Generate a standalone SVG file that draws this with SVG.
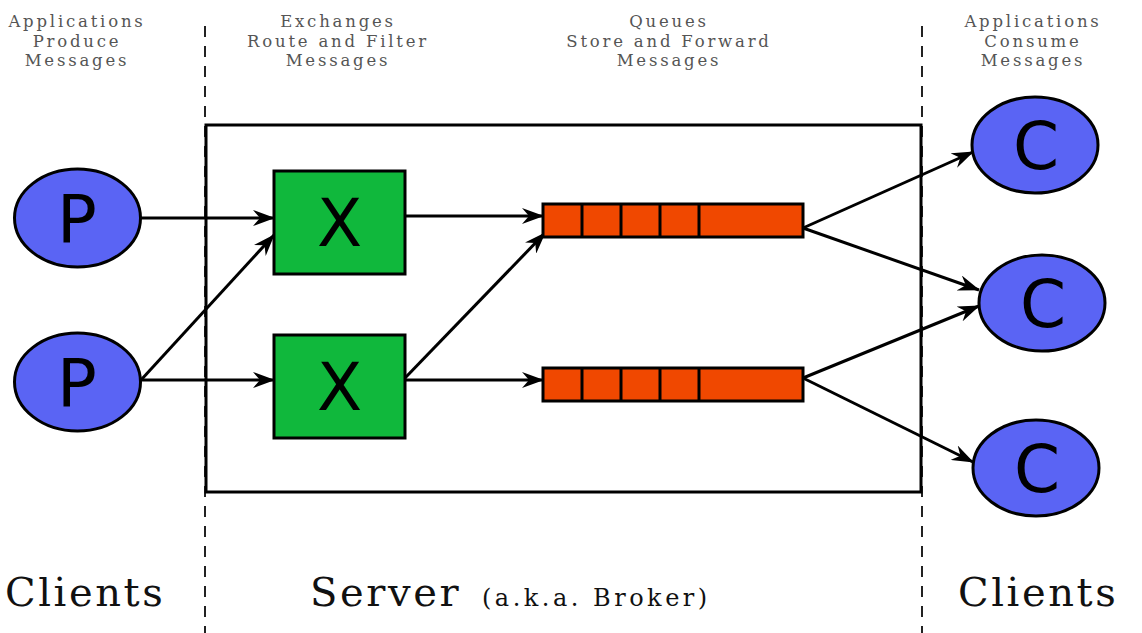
<svg xmlns="http://www.w3.org/2000/svg" width="1142" height="633" viewBox="0 0 1142 633">
  <defs>
    <marker id="arrow" viewBox="0 0 22 16" refX="21" refY="8" markerWidth="22" markerHeight="16" markerUnits="userSpaceOnUse" orient="auto">
      <path d="M0,0 L22,8 L0,16 L7,8 Z" fill="#000"/>
    </marker>
    <style>
      .caption { font-family: "DejaVu Serif", "Liberation Serif", serif; font-size: 16.5px; letter-spacing: 2.8px; fill: #555; text-anchor: middle; }
      .big { font-family: "DejaVu Serif", "Liberation Serif", serif; font-size: 40px; letter-spacing: 2.6px; fill: #111; }
      .small { font-family: "DejaVu Serif", "Liberation Serif", serif; font-size: 24px; letter-spacing: 3.5px; fill: #111; }
      .divider { stroke: #222; stroke-width: 2; stroke-dasharray: 11 9; fill: none; }
      .client { fill: #5a64f4; stroke: #000; stroke-width: 3; }
      .exchange { fill: #10b83c; stroke: #000; stroke-width: 3; }
      .queue { fill: #f04800; stroke: #000; stroke-width: 3; }
      .letter { font-family: "DejaVu Sans", "Liberation Sans", sans-serif; font-size: 66px; fill: #000; text-anchor: middle; }
      .edge { stroke: #000; stroke-width: 3; fill: none; marker-end: url(#arrow); }
    </style>
  </defs>
  <rect width="1142" height="633" fill="#fff"/>

  <!-- column headers -->
  <g id="headers">
    <text class="caption" x="77" y="27">Applications</text>
    <text class="caption" x="77" y="46.5">Produce</text>
    <text class="caption" x="77" y="66">Messages</text>
    <text class="caption" x="338" y="27">Exchanges</text>
    <text class="caption" x="338" y="46.5">Route and Filter</text>
    <text class="caption" x="338" y="66">Messages</text>
    <text class="caption" x="669" y="27">Queues</text>
    <text class="caption" x="669" y="46.5">Store and Forward</text>
    <text class="caption" x="669" y="66">Messages</text>
    <text class="caption" x="1033" y="27">Applications</text>
    <text class="caption" x="1033" y="46.5">Consume</text>
    <text class="caption" x="1033" y="66">Messages</text>
  </g>

  <!-- client / server separators -->
  <line class="divider" x1="205" y1="26" x2="205" y2="633"/>
  <line class="divider" x1="922" y1="26" x2="922" y2="633"/>

  <!-- broker boundary -->
  <rect id="server" x="206" y="125" width="715" height="367" fill="none" stroke="#000" stroke-width="3"/>

  <!-- connectors -->
  <g id="connectors">
    <line class="edge" x1="141" y1="218" x2="274" y2="218"/>
    <line class="edge" x1="141" y1="380" x2="274" y2="235"/>
    <line class="edge" x1="141" y1="380" x2="274" y2="380"/>
    <line class="edge" x1="405" y1="216" x2="543" y2="216"/>
    <line class="edge" x1="405" y1="378" x2="545" y2="233"/>
    <line class="edge" x1="405" y1="380" x2="543" y2="380"/>
    <line class="edge" x1="803" y1="228" x2="973" y2="152"/>
    <line class="edge" x1="803" y1="228" x2="979" y2="290"/>
    <line class="edge" x1="803" y1="378" x2="979" y2="306"/>
    <line class="edge" x1="803" y1="378" x2="973" y2="462"/>
  </g>

  <!-- producers -->
  <g id="producer-1">
    <ellipse class="client" cx="77.5" cy="218" rx="63" ry="49"/>
    <text class="letter" x="77" y="242">P</text>
  </g>
  <g id="producer-2">
    <ellipse class="client" cx="77.5" cy="382" rx="63" ry="49"/>
    <text class="letter" x="77" y="406">P</text>
  </g>

  <!-- exchanges -->
  <g id="exchange-1">
    <rect class="exchange" x="274" y="171" width="131" height="103"/>
    <text class="letter" x="339.5" y="246">X</text>
  </g>
  <g id="exchange-2">
    <rect class="exchange" x="274" y="335" width="131" height="103"/>
    <text class="letter" x="339.5" y="410">X</text>
  </g>

  <!-- queues -->
  <g id="queue-1">
    <rect class="queue" x="543" y="204" width="260" height="33"/>
    <path d="M582,204 V237 M621,204 V237 M660,204 V237 M699,204 V237" stroke="#000" stroke-width="3"/>
  </g>
  <g id="queue-2">
    <rect class="queue" x="543" y="368" width="260" height="33"/>
    <path d="M582,368 V401 M621,368 V401 M660,368 V401 M699,368 V401" stroke="#000" stroke-width="3"/>
  </g>

  <!-- consumers -->
  <g id="consumer-1">
    <ellipse class="client" cx="1035" cy="145" rx="63" ry="48"/>
    <text class="letter" x="1036" y="169">C</text>
  </g>
  <g id="consumer-2">
    <ellipse class="client" cx="1042" cy="303" rx="63" ry="48"/>
    <text class="letter" x="1043" y="327">C</text>
  </g>
  <g id="consumer-3">
    <ellipse class="client" cx="1036" cy="468" rx="63" ry="48"/>
    <text class="letter" x="1037" y="492">C</text>
  </g>

  <!-- footer labels -->
  <g id="footer">
    <text class="big" x="5" y="606">Clients</text>
    <text class="big" x="310" y="606">Server</text>
    <text class="small" x="482" y="606">(a.k.a. Broker)</text>
    <text class="big" x="958" y="606">Clients</text>
  </g>
</svg>
